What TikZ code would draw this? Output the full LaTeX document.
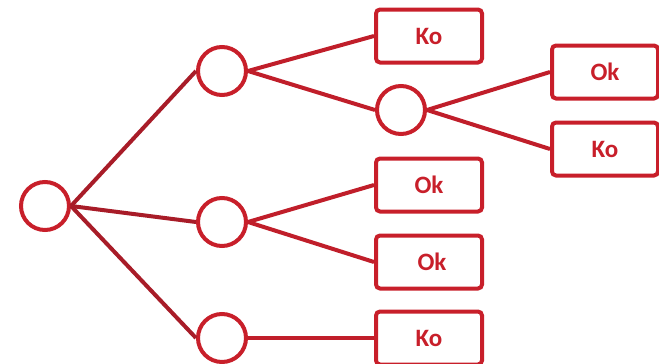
\documentclass[tikz,border=0pt]{standalone}
\usepackage{fontspec}
\setmainfont{Carlito}
\definecolor{boxred}{HTML}{C81F2A}
\definecolor{linered}{HTML}{A81C28}
\definecolor{linered2}{HTML}{C01E2A}
\begin{document}
\begin{tikzpicture}[x=1pt,y=-1pt,
  dot/.style={circle,draw=boxred,line width=4pt,minimum size=48pt,inner sep=0pt},
  leaf/.style={rectangle,rounded corners=4pt,draw=boxred,line width=4pt,minimum width=106pt,minimum height=53pt,inner sep=0pt,text=boxred,font=\bfseries\fontsize{25}{27}\selectfont},
  edge1/.style={draw=linered,line width=4pt},
  edge2/.style={draw=linered2,line width=4pt}]
\useasboundingbox (0,0) rectangle (659,364);
\clip (0,0) rectangle (659,364);
\node[dot] (r) at (45,206) {};
\node[dot] (a) at (222,71) {};
\node[dot] (b) at (222,222) {};
\node[dot] (c) at (222,338) {};
\node[dot] (d) at (401,110) {};
\node[leaf] (k1) at (429,36) {Ko};
\node[leaf] (o1) at (605,72) {Ok};
\node[leaf] (k2) at (605,149) {Ko};
\node[leaf] (o2) at (429,185) {Ok};
\node[leaf,text width=106pt,align=center] (o3) at (429,262) {\hspace*{6pt}Ok};
\node[leaf] (k3) at (429,338) {Ko};
\draw[edge1] (r.east) -- (a.west);
\draw[edge1] (r.east) -- (b.west);
\draw[edge1] (r.east) -- (c.west);
\draw[edge2] (a.east) -- (k1.west);
\draw[edge2] (a.east) -- (d.west);
\draw[edge2] (d.east) -- (o1.west);
\draw[edge2] (d.east) -- (k2.west);
\draw[edge2] (b.east) -- (o2.west);
\draw[edge2] (b.east) -- (o3.west);
\draw[edge2] (c.east) -- (k3.west);
\end{tikzpicture}
\end{document}
